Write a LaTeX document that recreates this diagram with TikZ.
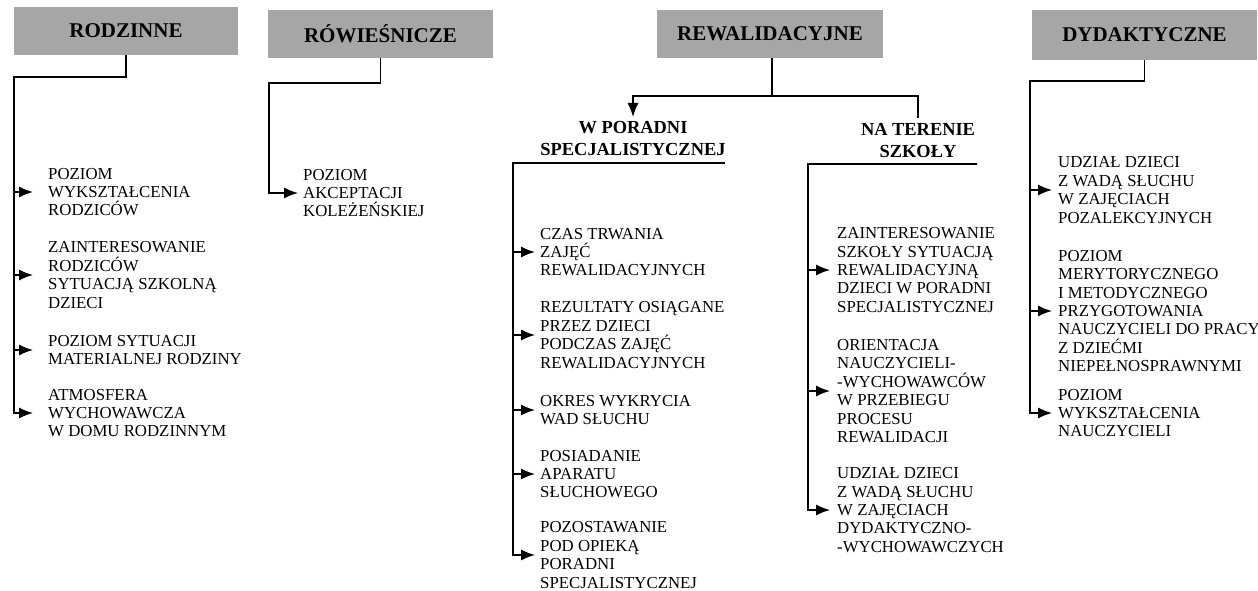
\documentclass[tikz,border=0pt]{standalone}
\usepackage{fontspec}
\setmainfont{Liberation Serif}
\usetikzlibrary{arrows.meta}
\tikzset{
  hdr/.style={fill=black!35, draw=none, minimum height=48pt, inner sep=0pt,
              font=\fontsize{21}{23}\selectfont\bfseries},
  subhdr/.style={align=center, inner sep=0pt, anchor=north,
              font=\fontsize{18.4}{22}\selectfont\bfseries},
  item/.style={align=left, inner sep=0pt, anchor=west,
              font=\fontsize{16.8}{18.4}\selectfont},
  ln/.style={line width=1.4pt},
  arr/.style={ln, -{Latex[length=14pt,width=11pt]}},
}
\begin{document}
\begin{tikzpicture}[x=1pt,y=-1pt]
\useasboundingbox (0,0) rectangle (1258,591);

% headers
\node[hdr, minimum width=224pt] (h1) at (126,31) {RODZINNE};
\node[hdr, minimum width=225pt] (h2) at (380.5,34) {RÓWIEŚNICZE};
\node[hdr, minimum width=226pt] (h3) at (770,34) {REWALIDACYJNE};
\node[hdr, minimum width=225pt, minimum height=50pt] (h4) at (1144.5,35) {DYDAKTYCZNE};

% RODZINNE
\node[item] (r1) at (48,192) {POZIOM\\WYKSZTAŁCENIA\\RODZICÓW};
\node[item] (r2) at (48,275) {ZAINTERESOWANIE\\RODZICÓW\\SYTUACJĄ SZKOLNĄ\\DZIECI};
\node[item] (r3) at (48,350) {POZIOM SYTUACJI\\MATERIALNEJ RODZINY};
\node[item] (r4) at (48,413) {ATMOSFERA\\WYCHOWAWCZA\\W DOMU RODZINNYM};
\coordinate (t1) at (14,77);
\draw[arr] (h1.south) |- (t1) |- ([xshift=-15pt]r4.west);
\foreach \n in {r1,r2,r3} \draw[arr] (t1 |- \n.west) -- ([xshift=-15pt]\n.west);

% ROWIESNICZE
\node[item] (w1) at (303,193) {POZIOM\\AKCEPTACJI\\KOLEŻEŃSKIEJ};
\coordinate (t2) at (269,83);
\draw[arr] (h2.south) |- (t2) |- ([xshift=-5pt]w1.west);

% REWALIDACYJNE
\coordinate (j) at (772,96);
\node[subhdr] (p1) at (633,121) {W PORADNI\\SPECJALISTYCZNEJ};
\node[subhdr] (p2) at (918,123) {NA TERENIE\\SZKOŁY};
\draw[ln] (h3.south -| j) -- (j);
\draw[arr] (j) -| ([yshift=4pt]p1.north);
\draw[ln] (j) -| ([yshift=5pt]p2.north);

% W poradni
\node[item] (q1) at (540,252) {CZAS TRWANIA\\ZAJĘĆ\\REWALIDACYJNYCH};
\node[item] (q2) at (540,335) {REZULTATY OSIĄGANE\\PRZEZ DZIECI\\PODCZAS ZAJĘĆ\\REWALIDACYJNYCH};
\node[item] (q3) at (540,410) {OKRES WYKRYCIA\\WAD SŁUCHU};
\node[item] (q4) at (540,474) {POSIADANIE\\APARATU\\SŁUCHOWEGO};
\node[item] (q5) at (540,555) {POZOSTAWANIE\\POD OPIEKĄ\\PORADNI\\SPECJALISTYCZNEJ};
\coordinate (u1e) at (725,163);
\coordinate (t3) at (513,163);
\draw[arr] (u1e) -- (t3) |- ([xshift=-5pt]q5.west);
\foreach \n in {q1,q2,q3,q4} \draw[arr] (t3 |- \n.west) -- ([xshift=-5pt]\n.west);

% Na terenie szkoly
\node[item] (z1) at (837,270) {ZAINTERESOWANIE\\SZKOŁY SYTUACJĄ\\REWALIDACYJNĄ\\DZIECI W PORADNI\\SPECJALISTYCZNEJ};
\node[item] (z2) at (837,391) {ORIENTACJA\\NAUCZYCIELI-\\-WYCHOWAWCÓW\\W PRZEBIEGU\\PROCESU\\REWALIDACJI};
\node[item] (z3) at (837,510) {UDZIAŁ DZIECI\\Z WADĄ SŁUCHU\\W ZAJĘCIACH\\DYDAKTYCZNO-\\-WYCHOWAWCZYCH};
\coordinate (u2e) at (977,164);
\coordinate (t4) at (808,164);
\draw[arr] (u2e) -- (t4) |- ([xshift=-7pt]z3.west);
\foreach \n in {z1,z2} \draw[arr] (t4 |- \n.west) -- ([xshift=-7pt]\n.west);

% DYDAKTYCZNE
\node[item] (d1) at (1058,190) {UDZIAŁ DZIECI\\Z WADĄ SŁUCHU\\W ZAJĘCIACH\\POZALEKCYJNYCH};
\node[item] (d2) at (1058,311) {POZIOM\\MERYTORYCZNEGO\\I METODYCZNEGO\\PRZYGOTOWANIA\\NAUCZYCIELI DO PRACY\\Z DZIEĆMI\\NIEPEŁNOSPRAWNYMI};
\node[item] (d3) at (1058,413) {POZIOM\\WYKSZTAŁCENIA\\NAUCZYCIELI};
\coordinate (t5) at (1030,81);
\draw[arr] (h4.south) |- (t5) |- ([xshift=-6pt]d3.west);
\foreach \n in {d1,d2} \draw[arr] (t5 |- \n.west) -- ([xshift=-6pt]\n.west);
\end{tikzpicture}
\end{document}
